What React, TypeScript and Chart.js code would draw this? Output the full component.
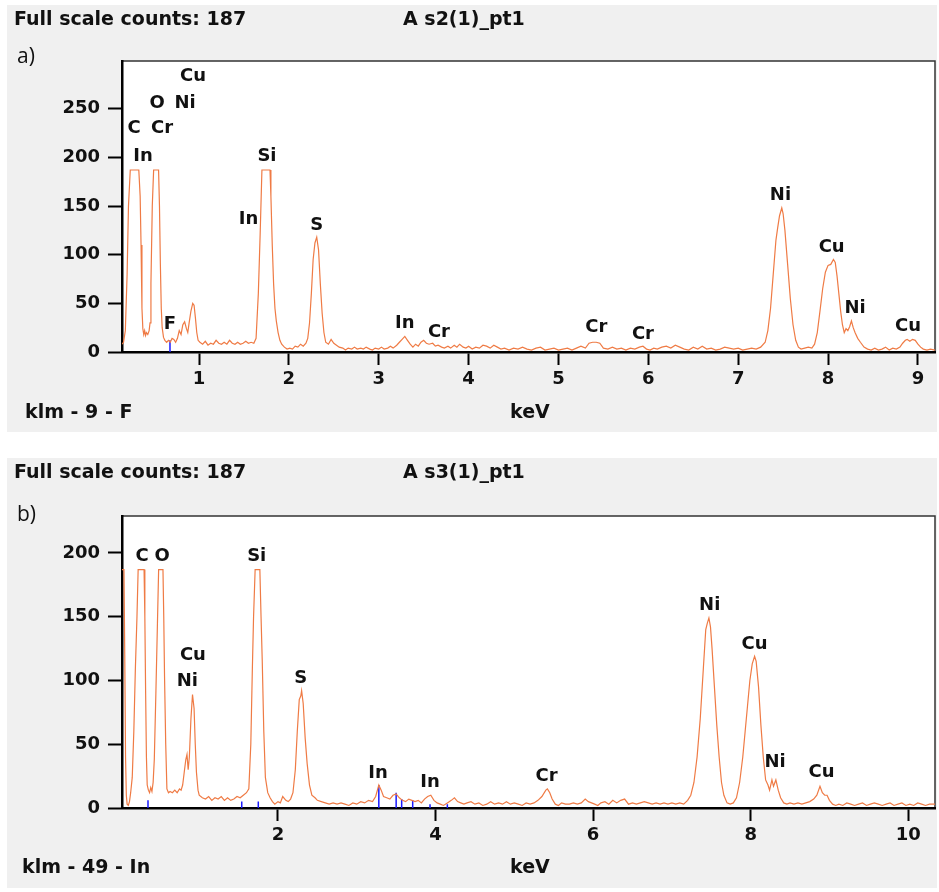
import React, { useEffect, useRef } from 'react';
import { Chart, registerables } from 'chart.js';
Chart.register(...registerables);

// ---------- Panel a data (keV, counts) ----------
const spectrumA: [number, number][] = [
  [0.143, 8], [0.16, 10], [0.18, 22], [0.2, 80], [0.215, 150], [0.235, 187], [0.25, 187], [0.33, 187], [0.345, 160],
  [0.355, 110], [0.365, 45], [0.375, 24], [0.385, 18], [0.395, 22], [0.405, 17], [0.415, 20], [0.43, 18], [0.445, 22],
  [0.455, 30], [0.465, 70], [0.48, 150], [0.495, 187], [0.55, 187], [0.56, 150], [0.57, 90], [0.58, 45], [0.59, 25],
  [0.605, 15], [0.62, 12], [0.64, 10], [0.66, 12], [0.68, 10], [0.7, 14], [0.72, 13], [0.74, 10], [0.76, 14],
  [0.78, 22], [0.8, 18], [0.82, 28], [0.84, 31], [0.86, 24], [0.875, 20], [0.89, 30], [0.91, 42], [0.93, 50],
  [0.945, 48], [0.96, 35], [0.975, 20], [0.99, 12], [1.01, 10], [1.04, 8], [1.07, 11], [1.1, 7], [1.13, 9],
  [1.16, 8], [1.19, 12], [1.22, 9], [1.25, 8], [1.28, 10], [1.31, 8], [1.34, 12], [1.37, 9], [1.4, 8], [1.43, 10],
  [1.46, 8], [1.49, 9], [1.52, 11], [1.55, 9], [1.58, 10], [1.61, 9], [1.635, 14], [1.66, 60], [1.68, 120],
  [1.7, 187], [1.71, 187], [1.79, 187], [1.8, 160], [1.815, 110], [1.83, 70], [1.845, 45], [1.86, 32], [1.88, 20],
  [1.9, 12], [1.92, 8], [1.95, 5], [1.98, 3], [2.01, 4], [2.04, 3], [2.07, 6], [2.1, 5], [2.13, 8], [2.16, 6],
  [2.19, 9], [2.21, 14], [2.23, 30], [2.25, 60], [2.27, 95], [2.29, 112], [2.31, 118], [2.33, 105], [2.35, 70],
  [2.37, 40], [2.39, 20], [2.41, 10], [2.44, 8], [2.47, 13], [2.5, 9], [2.53, 7], [2.56, 5], [2.6, 4], [2.63, 2],
  [2.66, 4], [2.7, 3], [2.73, 5], [2.76, 3], [2.8, 4], [2.83, 3], [2.86, 5], [2.9, 3], [2.93, 2], [2.96, 4],
  [3.0, 3], [3.03, 5], [3.06, 3], [3.1, 4], [3.13, 6], [3.16, 4], [3.2, 7], [3.23, 10], [3.26, 13], [3.29, 16],
  [3.32, 12], [3.35, 8], [3.38, 5], [3.41, 8], [3.44, 6], [3.47, 10], [3.5, 12], [3.53, 9], [3.56, 8], [3.6, 9],
  [3.63, 6], [3.66, 7], [3.7, 5], [3.73, 4], [3.77, 6], [3.8, 4], [3.84, 7], [3.87, 5], [3.9, 8], [3.94, 5],
  [3.97, 4], [4.0, 6], [4.04, 3], [4.08, 5], [4.12, 4], [4.16, 7], [4.2, 6], [4.24, 4], [4.28, 7], [4.32, 5],
  [4.36, 3], [4.4, 4], [4.45, 2], [4.5, 4], [4.55, 3], [4.6, 5], [4.65, 3], [4.7, 2], [4.75, 4], [4.8, 5],
  [4.85, 2], [4.9, 3], [4.95, 4], [5.0, 2], [5.05, 3], [5.1, 4], [5.15, 2], [5.2, 4], [5.25, 6], [5.3, 4],
  [5.34, 9], [5.38, 10], [5.42, 10], [5.46, 9], [5.5, 4], [5.55, 3], [5.6, 5], [5.65, 3], [5.7, 4], [5.75, 2],
  [5.8, 4], [5.85, 3], [5.9, 5], [5.94, 6], [5.98, 3], [6.02, 2], [6.06, 4], [6.1, 3], [6.15, 5], [6.2, 6],
  [6.25, 4], [6.3, 7], [6.35, 5], [6.4, 3], [6.45, 2], [6.5, 5], [6.55, 3], [6.6, 6], [6.65, 3], [6.7, 4],
  [6.75, 2], [6.8, 3], [6.85, 5], [6.9, 4], [6.95, 3], [7.0, 4], [7.05, 2], [7.1, 3], [7.15, 4], [7.2, 3],
  [7.25, 5], [7.3, 10], [7.33, 22], [7.36, 45], [7.39, 80], [7.42, 115], [7.44, 128], [7.46, 140], [7.485, 148],
  [7.5, 142], [7.52, 125], [7.55, 90], [7.58, 55], [7.61, 28], [7.64, 12], [7.67, 5], [7.7, 3], [7.74, 4],
  [7.78, 5], [7.82, 4], [7.85, 8], [7.88, 20], [7.91, 42], [7.94, 65], [7.97, 82], [8.0, 89], [8.03, 90],
  [8.06, 95], [8.08, 92], [8.1, 78], [8.12, 60], [8.14, 42], [8.16, 28], [8.18, 20], [8.2, 24], [8.22, 22],
  [8.24, 26], [8.26, 32], [8.28, 25], [8.3, 20], [8.33, 14], [8.36, 10], [8.4, 5], [8.44, 3], [8.48, 2],
  [8.52, 4], [8.56, 2], [8.6, 3], [8.64, 5], [8.68, 2], [8.72, 4], [8.76, 3], [8.8, 5], [8.83, 9], [8.86, 12],
  [8.88, 13], [8.91, 11], [8.94, 13], [8.97, 12], [9.0, 8], [9.03, 5], [9.06, 3], [9.1, 2], [9.14, 3], [9.19, 2],
];
const markersA: [number, number][] = [[0.677, 12]];
const labelsA: [string, number, number][] = [
  ['Cu', 0.933, 283], ['O', 0.533, 256], ['Ni', 0.844, 256], ['C', 0.277, 230], ['Cr', 0.589, 230],
  ['In', 0.377, 201], ['Si', 1.756, 201], ['In', 1.55, 136], ['S', 2.31, 130], ['F', 0.677, 28],
  ['In', 3.29, 29], ['Cr', 3.67, 20], ['Cr', 5.42, 25], ['Cr', 5.94, 18], ['Ni', 7.47, 161],
  ['Cu', 8.04, 108], ['Ni', 8.3, 45], ['Cu', 8.89, 26],
];
const xTicksA = [1, 2, 3, 4, 5, 6, 7, 8, 9];
const yTicksA = [0, 50, 100, 150, 200, 250];

// ---------- Panel b data (keV, counts) ----------
const spectrumB: [number, number][] = [
  [0.02, 187], [0.045, 187], [0.055, 120], [0.065, 40], [0.075, 10], [0.085, 3], [0.1, 2], [0.115, 5], [0.13, 12],
  [0.15, 24], [0.17, 60], [0.19, 110], [0.21, 150], [0.225, 187], [0.3, 187], [0.31, 150], [0.32, 90], [0.33, 40],
  [0.34, 18], [0.355, 14], [0.37, 12], [0.385, 16], [0.4, 13], [0.415, 20], [0.43, 38], [0.45, 90], [0.47, 145],
  [0.485, 187], [0.54, 187], [0.55, 150], [0.56, 103], [0.575, 50], [0.59, 15], [0.61, 12], [0.63, 13], [0.66, 12],
  [0.69, 14], [0.72, 12], [0.75, 15], [0.77, 14], [0.79, 18], [0.81, 28], [0.83, 38], [0.845, 42], [0.86, 30],
  [0.875, 40], [0.895, 70], [0.915, 89], [0.935, 78], [0.95, 50], [0.965, 28], [0.985, 14], [1.0, 10], [1.04, 8],
  [1.08, 7], [1.12, 9], [1.16, 6], [1.2, 8], [1.24, 7], [1.28, 9], [1.32, 6], [1.36, 8], [1.4, 6], [1.44, 7],
  [1.48, 9], [1.52, 8], [1.56, 10], [1.6, 12], [1.63, 15], [1.655, 50], [1.675, 110], [1.69, 150], [1.71, 187],
  [1.77, 187], [1.785, 150], [1.8, 116], [1.82, 60], [1.84, 24], [1.87, 12], [1.9, 8], [1.93, 5], [1.96, 3],
  [2.0, 5], [2.03, 4], [2.06, 9], [2.1, 6], [2.13, 5], [2.16, 7], [2.19, 12], [2.22, 30], [2.245, 60], [2.27, 85],
  [2.29, 88], [2.3, 92], [2.32, 82], [2.345, 55], [2.37, 35], [2.4, 18], [2.43, 10], [2.47, 8], [2.5, 6],
  [2.55, 5], [2.6, 4], [2.65, 3], [2.7, 4], [2.75, 3], [2.8, 4], [2.85, 3], [2.9, 2], [2.95, 4], [3.0, 3],
  [3.05, 5], [3.1, 4], [3.15, 6], [3.2, 5], [3.24, 9], [3.28, 18], [3.31, 14], [3.34, 9], [3.38, 8], [3.42, 7],
  [3.46, 10], [3.5, 11], [3.54, 8], [3.58, 6], [3.62, 5], [3.66, 7], [3.7, 6], [3.74, 5], [3.78, 6], [3.82, 4],
  [3.86, 7], [3.9, 9], [3.94, 10], [3.98, 6], [4.02, 4], [4.06, 3], [4.1, 2], [4.15, 4], [4.2, 6], [4.24, 8],
  [4.28, 5], [4.32, 4], [4.36, 3], [4.4, 4], [4.45, 5], [4.5, 3], [4.55, 4], [4.6, 2], [4.65, 3], [4.7, 5],
  [4.75, 3], [4.8, 4], [4.85, 3], [4.9, 5], [4.95, 3], [5.0, 4], [5.05, 3], [5.1, 2], [5.15, 4], [5.2, 3],
  [5.25, 4], [5.3, 6], [5.35, 9], [5.4, 14], [5.42, 15], [5.45, 12], [5.48, 7], [5.52, 3], [5.56, 2], [5.6, 4],
  [5.65, 3], [5.7, 3], [5.75, 4], [5.8, 3], [5.85, 4], [5.9, 7], [5.94, 5], [5.98, 4], [6.02, 3], [6.06, 2],
  [6.1, 4], [6.15, 5], [6.2, 3], [6.25, 6], [6.3, 4], [6.35, 6], [6.4, 7], [6.45, 3], [6.5, 4], [6.55, 3],
  [6.6, 4], [6.65, 5], [6.7, 4], [6.75, 3], [6.8, 4], [6.85, 3], [6.9, 4], [6.95, 3], [7.0, 4], [7.05, 3],
  [7.1, 4], [7.15, 3], [7.2, 6], [7.24, 10], [7.28, 20], [7.32, 40], [7.36, 70], [7.4, 110], [7.43, 140],
  [7.45, 145], [7.47, 149], [7.49, 142], [7.51, 125], [7.54, 95], [7.57, 65], [7.6, 40], [7.63, 20], [7.66, 10],
  [7.7, 4], [7.74, 3], [7.78, 4], [7.82, 8], [7.86, 20], [7.9, 40], [7.93, 60], [7.96, 80], [7.99, 100],
  [8.02, 113], [8.05, 119], [8.07, 115], [8.1, 95], [8.13, 65], [8.16, 40], [8.19, 22], [8.22, 18], [8.24, 14],
  [8.27, 22], [8.29, 17], [8.32, 22], [8.35, 14], [8.38, 8], [8.42, 4], [8.46, 3], [8.5, 4], [8.55, 3], [8.6, 4],
  [8.65, 3], [8.7, 4], [8.75, 5], [8.8, 7], [8.84, 10], [8.88, 17], [8.91, 12], [8.94, 10], [8.97, 10], [9.0, 6],
  [9.04, 3], [9.08, 2], [9.12, 3], [9.17, 2], [9.22, 4], [9.27, 3], [9.32, 2], [9.37, 3], [9.42, 4], [9.47, 2],
  [9.52, 3], [9.57, 4], [9.62, 3], [9.67, 2], [9.72, 3], [9.77, 4], [9.82, 2], [9.87, 3], [9.92, 4], [9.97, 2],
  [10.02, 3], [10.07, 2], [10.12, 4], [10.17, 3], [10.22, 2], [10.27, 3], [10.34, 3],
];
const markersB: [number, number][] = [
  [0.35, 6], [1.54, 5], [1.75, 5], [3.28, 18], [3.5, 12], [3.57, 7], [3.71, 6], [3.93, 3], [4.15, 3],
];
const labelsB: [string, number, number][] = [
  ['C', 0.276, 197], ['O', 0.53, 197], ['Si', 1.73, 197], ['Cu', 0.92, 120], ['Ni', 0.85, 99], ['S', 2.29, 102],
  ['In', 3.27, 27], ['In', 3.93, 20], ['Cr', 5.41, 25], ['Ni', 7.48, 159], ['Cu', 8.05, 128], ['Ni', 8.31, 36],
  ['Cu', 8.9, 28],
];
const xTicksB = [2, 4, 6, 8, 10];
const yTicksB = [0, 50, 100, 150, 200];

const FONT = 'DejaVu Sans';

const decor = {
  id: 'decor',
  beforeDraw(chart: any) {
    const { ctx, chartArea, width, height } = chart;
    ctx.save();
    ctx.fillStyle = '#f0f0f0';
    ctx.fillRect(0, 0, width, height);
    ctx.fillStyle = '#ffffff';
    ctx.fillRect(chartArea.left, chartArea.top, chartArea.right - chartArea.left, chartArea.bottom - chartArea.top);
    ctx.strokeStyle = '#333';
    ctx.lineWidth = 1.5;
    ctx.strokeRect(chartArea.left, chartArea.top, chartArea.right - chartArea.left, chartArea.bottom - chartArea.top);
    ctx.restore();
  },
  afterDraw(chart: any, _a: any, o: any) {
    const { ctx } = chart;
    const xs = chart.scales.x, ys = chart.scales.y;
    ctx.save();
    ctx.fillStyle = '#111';
    ctx.textBaseline = 'middle';
    ctx.textAlign = 'left';
    ctx.font = `bold 19px "${FONT}"`;
    ctx.fillText('Full scale counts: 187', 7, 15);
    ctx.fillText(o.sample, 396, 15);
    ctx.fillText(o.footer, o.footerX, o.footerY);
    ctx.fillText('keV', 503, o.footerY);
    ctx.font = '21px "Open Sans"';
    ctx.fillText(o.tag, 10, o.tagY);
    ctx.font = `bold 18px "${FONT}"`;
    ctx.textAlign = 'center';
    for (const [t, x, y] of o.labels as [string, number, number][]) {
      ctx.fillText(t, xs.getPixelForValue(x), ys.getPixelForValue(y));
    }
    ctx.restore();
  },
};

type PanelProps = {
  top: number; height: number; plotTop: number;
  spec: [number, number][]; marks: [number, number][]; labels: [string, number, number][];
  xMin: number; xMax: number; xTicks: number[]; yMax: number; yTicks: number[];
  sample: string; footer: string; footerX: number; footerY: number; tag: string; tagY: number;
};

function Panel(p: PanelProps) {
  const ref = useRef<HTMLCanvasElement>(null);
  useEffect(() => {
    const markData: any[] = [];
    p.marks.forEach(([x, h]) => {
      markData.push({ x, y: 0 }, { x, y: h }, { x, y: null });
    });
    const tickFont = { family: FONT, size: 18, weight: 'bold' as const };
    const chart = new Chart(ref.current!, {
      type: 'line',
      data: {
        datasets: [
          {
            data: p.spec.map(([x, y]) => ({ x, y })),
            borderColor: '#ef7b45', borderWidth: 1.2, pointRadius: 0, tension: 0,
          },
          {
            data: markData, borderColor: '#1a1aff', borderWidth: 1.5, pointRadius: 0, spanGaps: false,
          },
        ],
      },
      options: {
        animation: false,
        responsive: false,
        maintainAspectRatio: false,
        layout: { padding: { top: p.plotTop, right: 2, left: 0, bottom: 0 } },
        plugins: {
          legend: { display: false },
          tooltip: { enabled: false },
          decor: { sample: p.sample, footer: p.footer, footerX: p.footerX, footerY: p.footerY, tag: p.tag, tagY: p.tagY, labels: p.labels },
        } as any,
        scales: {
          x: {
            type: 'linear', min: p.xMin, max: p.xMax,
            afterBuildTicks: (s: any) => { s.ticks = p.xTicks.map((v) => ({ value: v })); },
            afterFit: (s: any) => { s.height = 80; },
            ticks: { font: tickFont, color: '#111', padding: 4, maxRotation: 0, autoSkip: false },
            grid: { drawOnChartArea: false, tickLength: 13, tickColor: '#000', tickWidth: 2 },
            border: { color: '#000', width: 2.5 },
          },
          y: {
            type: 'linear', min: 0, max: p.yMax,
            afterBuildTicks: (s: any) => { s.ticks = p.yTicks.map((v) => ({ value: v })); },
            afterFit: (s: any) => { s.width = 115; },
            ticks: { font: tickFont, color: '#111', padding: 8 },
            grid: { drawOnChartArea: false, tickLength: 14, tickColor: '#000', tickWidth: 2 },
            border: { color: '#000', width: 2.5 },
          },
        },
      },
      plugins: [decor],
    });
    return () => chart.destroy();
  }, []);
  return (
    <canvas
      ref={ref}
      width={930}
      height={p.height}
      style={{ position: 'absolute', left: 7, top: p.top, width: 930, height: p.height }}
    />
  );
}

export default function App() {
  return (
    <div style={{ position: 'absolute', left: 0, top: 0, width: 939, height: 892, background: '#fff' }}>
      <Panel top={5} height={427} plotTop={56} spec={spectrumA} marks={markersA} labels={labelsA}
        xMin={0.143} xMax={9.19} xTicks={xTicksA} yMax={299} yTicks={yTicksA}
        sample="A s2(1)_pt1" footer="klm - 9 - F" footerX={18} footerY={408} tag="a)" tagY={52} />
      <Panel top={458} height={430} plotTop={58} spec={spectrumB} marks={markersB} labels={labelsB}
        xMin={0.02} xMax={10.34} xTicks={xTicksB} yMax={229} yTicks={yTicksB}
        sample="A s3(1)_pt1" footer="klm - 49 - In" footerX={15} footerY={410} tag="b)" tagY={57} />
    </div>
  );
}
